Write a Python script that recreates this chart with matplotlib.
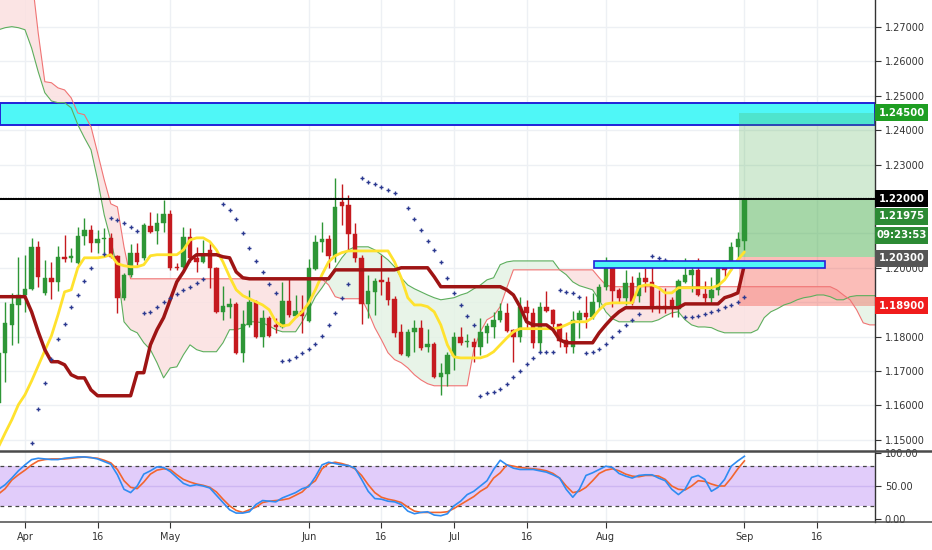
import numpy as np
import pandas as pd
import matplotlib
matplotlib.use('Agg')
import matplotlib.pyplot as plt
from matplotlib.patches import Rectangle
from matplotlib.lines import Line2D
import matplotlib.transforms as mtransforms

plt.rcParams['font.family'] = ['DejaVu Sans']

# ---------------- data ----------------
dates = pd.bdate_range('2020-03-26', '2020-10-30')   # trading days, index 4 = Apr 1

opens = [1.1606, 1.1752, 1.1833, 1.1892, 1.1921, 1.1938, 1.2060, 1.1926, 1.1970, 1.1958,
         1.2031, 1.2028, 1.2015, 1.2092, 1.2110, 1.2072, 1.2084, 1.2087, 1.2034, 1.1912,
         1.1979, 1.2043, 1.2028, 1.2121, 1.2107, 1.2130, 1.2156, 1.2002, 1.2002, 1.2089,
         1.2028, 1.2017, 1.2052, 1.1999, 1.1871, 1.1886, 1.1894, 1.1752, 1.1833, 1.1900,
         1.1799, 1.1854, 1.1833, 1.1828, 1.1903, 1.1859, 1.1874, 1.1845, 1.1996, 1.2075,
         1.2084, 1.2034, 1.2191, 1.2183, 1.2098, 1.2028, 1.1894, 1.1929, 1.1964, 1.1958,
         1.1909, 1.1813, 1.1743, 1.1813, 1.1825, 1.1769, 1.1778, 1.1682, 1.1691, 1.1743,
         1.1799, 1.1784, 1.1784, 1.1769, 1.1810, 1.1828, 1.1848, 1.1868, 1.1819, 1.1799,
         1.1886, 1.1868, 1.1781, 1.1886, 1.1877, 1.1836, 1.1790, 1.1769, 1.1848, 1.1868,
         1.1857, 1.1900, 1.1944, 1.1999, 1.1935, 1.1912, 1.1956, 1.1918, 1.1970, 1.1958,
         1.1889, 1.1889, 1.1906, 1.1880, 1.1958, 1.1979, 1.1993, 1.1924, 1.1912, 1.1935,
         1.2002, 1.2002, 1.2060, 1.2078]
highs = [1.1761, 1.1900, 1.1926, 1.2031, 1.2037, 1.2087, 1.2078, 1.2022, 1.2017, 1.2063,
         1.2095, 1.2057, 1.2119, 1.2145, 1.2124, 1.2110, 1.2116, 1.2101, 1.2037, 1.1985,
         1.2069, 1.2072, 1.2130, 1.2162, 1.2159, 1.2197, 1.2168, 1.2014, 1.2119, 1.2116,
         1.2060, 1.2081, 1.2072, 1.2002, 1.1947, 1.1912, 1.1900, 1.1877, 1.1935, 1.1906,
         1.1877, 1.1859, 1.1854, 1.1958, 1.1970, 1.1921, 1.1921, 1.2025, 1.2095, 1.2133,
         1.2095, 1.2261, 1.2244, 1.2212, 1.2130, 1.2037, 1.1979, 1.1970, 1.2037, 1.1973,
         1.1918, 1.1836, 1.1822, 1.1848, 1.1848, 1.1822, 1.1784, 1.1723, 1.1755, 1.1813,
         1.1828, 1.1807, 1.1796, 1.1854, 1.1839, 1.1871, 1.1897, 1.1897, 1.1822, 1.1915,
         1.1906, 1.1883, 1.1900, 1.1932, 1.1880, 1.1839, 1.1813, 1.1874, 1.1877, 1.1918,
         1.1926, 1.1953, 1.2031, 1.2002, 1.1941, 1.1993, 1.1976, 1.1988, 1.1999, 1.2002,
         1.1935, 1.1941, 1.1915, 1.1967, 1.2028, 1.2008, 1.2028, 1.1961, 1.1973, 1.2002,
         1.2017, 1.2075, 1.2104, 1.2200]
lows = [1.1586, 1.1667, 1.1775, 1.1781, 1.1871, 1.1935, 1.1944, 1.1920, 1.1909, 1.1932,
        1.2017, 1.2017, 1.2012, 1.2066, 1.2046, 1.2043, 1.2037, 1.2028, 1.1868, 1.1906,
        1.1973, 1.2008, 1.2022, 1.2101, 1.2069, 1.2104, 1.1993, 1.1993, 1.1999, 1.2017,
        1.1988, 1.2014, 1.1941, 1.1868, 1.1848, 1.1854, 1.1749, 1.1726, 1.1828, 1.1796,
        1.1769, 1.1799, 1.1810, 1.1825, 1.1857, 1.1857, 1.1810, 1.1842, 1.1993, 1.2046,
        1.1999, 1.2017, 1.2124, 1.2052, 1.2017, 1.1836, 1.1854, 1.1862, 1.1921, 1.1892,
        1.1799, 1.1746, 1.1740, 1.1755, 1.1761, 1.1755, 1.1679, 1.1630, 1.1656, 1.1703,
        1.1775, 1.1769, 1.1726, 1.1746, 1.1781, 1.1796, 1.1842, 1.1813, 1.1726, 1.1784,
        1.1825, 1.1766, 1.1755, 1.1871, 1.1825, 1.1769, 1.1752, 1.1752, 1.1796, 1.1825,
        1.1851, 1.1877, 1.1935, 1.1886, 1.1897, 1.1892, 1.1892, 1.1900, 1.1929, 1.1871,
        1.1868, 1.1868, 1.1857, 1.1857, 1.1955, 1.1929, 1.1918, 1.1900, 1.1897, 1.1921,
        1.1973, 1.1993, 1.2028, 1.2052]
closes = [1.1752, 1.1839, 1.1894, 1.1921, 1.1938, 1.2060, 1.1973, 1.1970, 1.1958, 1.2031,
          1.2025, 1.2034, 1.2092, 1.2110, 1.2072, 1.2084, 1.2087, 1.2031, 1.1912, 1.1979,
          1.2043, 1.2017, 1.2124, 1.2104, 1.2130, 1.2156, 1.1999, 1.1999, 1.2089, 1.2028,
          1.2017, 1.2034, 1.1999, 1.1871, 1.1889, 1.1894, 1.1752, 1.1836, 1.1900, 1.1799,
          1.1854, 1.1802, 1.1828, 1.1903, 1.1862, 1.1874, 1.1859, 1.1999, 1.2075, 1.2084,
          1.2034, 1.2177, 1.2180, 1.2098, 1.2028, 1.1894, 1.1932, 1.1961, 1.1958, 1.1906,
          1.1810, 1.1749, 1.1813, 1.1825, 1.1766, 1.1778, 1.1682, 1.1694, 1.1746, 1.1799,
          1.1781, 1.1787, 1.1769, 1.1813, 1.1830, 1.1848, 1.1874, 1.1816, 1.1799, 1.1886,
          1.1868, 1.1781, 1.1886, 1.1874, 1.1836, 1.1787, 1.1769, 1.1848, 1.1868, 1.1857,
          1.1900, 1.1944, 1.1999, 1.1932, 1.1912, 1.1956, 1.1897, 1.1970, 1.1958, 1.1886,
          1.1883, 1.1883, 1.1883, 1.1961, 1.1979, 1.1993, 1.1921, 1.1912, 1.1935, 1.1999,
          1.1993, 1.2060, 1.2084, 1.21975]

tenkan = ([1.1480, 1.1520, 1.1558, 1.1602, 1.1631, 1.1671, 1.1715, 1.1759, 1.1802, 1.1863,
           1.1930, 1.1936, 1.2000, 1.2029, 1.2029, 1.2029, 1.2032, 1.2038, 1.2012, 1.2006,
           1.2003, 1.2003, 1.2009, 1.2035, 1.2038, 1.2038, 1.2038, 1.2038, 1.2052, 1.2081,
           1.2087, 1.2087, 1.2076, 1.2052, 1.2017, 1.1974, 1.1936, 1.1919, 1.1910, 1.1901,
           1.1892, 1.1878, 1.1843, 1.1831, 1.1834, 1.1855, 1.1872, 1.1898, 1.1936, 1.1980,
           1.2017, 1.2035, 1.2044]
          + [1.2049] * 7
          + [1.2017, 1.1971, 1.1913, 1.1892, 1.1892, 1.1887, 1.1872, 1.1834, 1.1776, 1.1741]
          + [1.1738] * 4
          + [1.1744, 1.1756, 1.1776, 1.1796, 1.1814]
          + [1.1823] * 6
          + [1.1826, 1.1834, 1.1843, 1.1843, 1.1843, 1.1855, 1.1878, 1.1895]
          + [1.1898] * 4
          + [1.1945, 1.1950, 1.1950, 1.1942, 1.1927, 1.1927]
          + [1.1942] * 6
          + [1.1948, 1.1965, 1.1994, 1.2023, 1.2046])

kijun = ([1.1916] * 5
         + [1.1872, 1.1814, 1.1762, 1.1727, 1.1727, 1.1718, 1.1689, 1.1680, 1.1680, 1.1645]
         + [1.1628] * 6
         + [1.1695, 1.1695, 1.1776, 1.1820, 1.1855, 1.1907, 1.1959, 1.1988, 1.2023]
         + [1.2038] * 4
         + [1.2032, 1.2029, 1.1988, 1.1971]
         + [1.1968] * 13
         + [1.1994] * 10
         + [1.2000] * 5
         + [1.1974]
         + [1.1945] * 10
         + [1.1936, 1.1921, 1.1887, 1.1843, 1.1834, 1.1834, 1.1834, 1.1820, 1.1791]
         + [1.1782] * 5
         + [1.1811, 1.1834, 1.1855, 1.1872]
         + [1.1884] * 9
         + [1.1895] * 6
         + [1.1913, 1.1919, 1.1927, 1.2009])

senkou_a = ([1.2692, 1.2698, 1.2701, 1.2698, 1.2692, 1.2639, 1.2570, 1.2509, 1.2485, 1.2480,
             1.2480, 1.2465, 1.2416, 1.2378, 1.2343, 1.2256, 1.2154, 1.2081, 1.1994, 1.1843,
             1.1820, 1.1811, 1.1782, 1.1762, 1.1724, 1.1680, 1.1709, 1.1712, 1.1747, 1.1776,
             1.1762, 1.1756, 1.1756, 1.1756, 1.1782, 1.1820, 1.1820, 1.1826, 1.1843, 1.1843,
             1.1840, 1.1831, 1.1820, 1.1814, 1.1814, 1.1814, 1.1843, 1.1878, 1.1916, 1.1942,
             1.1971, 1.2000, 1.2029, 1.2052, 1.2061, 1.2061, 1.2061, 1.2052, 1.2038, 1.2023,
             1.2003, 1.1971, 1.1950, 1.1939, 1.1930, 1.1921, 1.1913, 1.1907, 1.1910, 1.1913,
             1.1921, 1.1927, 1.1939, 1.1950, 1.1965, 1.1971, 1.2009, 1.2017]
            + [1.2020] * 7
            + [1.1994, 1.1980, 1.1959, 1.1948, 1.1942, 1.1936, 1.1907, 1.1872, 1.1852]
            + [1.1843] * 6
            + [1.1849, 1.1860, 1.1869, 1.1872, 1.1849, 1.1834, 1.1828, 1.1828, 1.1826, 1.1817]
            + [1.1811] * 5
            + [1.1820, 1.1855, 1.1872, 1.1881, 1.1892, 1.1898, 1.1907, 1.1913, 1.1916, 1.1921,
               1.1921, 1.1916, 1.1907, 1.1907, 1.1916]
            + [1.1919] * 4)

senkou_b = ([1.2900] * 5
            + [1.2850, 1.2683, 1.2541, 1.2538, 1.2523, 1.2517, 1.2494, 1.2450, 1.2445, 1.2410,
               1.2334, 1.2256, 1.2186, 1.2177, 1.2061]
            + [1.1968] * 30
            + [1.1950, 1.1916]
            + [1.1910] * 4
            + [1.1872, 1.1826, 1.1791, 1.1753, 1.1733, 1.1724, 1.1709, 1.1689, 1.1674, 1.1663]
            + [1.1657] * 6
            + [1.1762, 1.1814, 1.1849, 1.1860, 1.1887, 1.1942]
            + [1.1994] * 13
            + [1.1971, 1.1950]
            + [1.1945] * 34
            + [1.1936, 1.1921, 1.1907, 1.1878, 1.1840, 1.1834, 1.1834])

nan = np.nan
psar = [nan, nan, nan, nan, nan, 1.1491, 1.1590, 1.1666, 1.1735, 1.1794,
        1.1837, 1.1887, 1.1921, 1.1962, 1.2000, nan, 1.2041, 1.2145, 1.2140, 1.2131,
        1.2119, 1.2108, 1.1869, 1.1872, 1.1887, 1.1901, 1.1913, 1.1924, 1.1936, 1.1945,
        1.1956, 1.1968, nan, nan, 1.2186, 1.2169, 1.2142, 1.2102, 1.2058, 1.2020,
        1.1988, 1.1953, 1.1927, 1.1730, 1.1733, 1.1741, 1.1753, 1.1765, 1.1779, 1.1802,
        1.1834, 1.1869, 1.1913, 1.1953, nan, 1.2262, 1.2250, 1.2244, 1.2235, 1.2227,
        1.2218, nan, 1.2174, 1.2142, 1.2110, 1.2078, 1.2052, 1.2017, 1.1971, 1.1927,
        1.1892, 1.1860, 1.1834, 1.1628, 1.1637, 1.1640, 1.1648, 1.1663, 1.1683, 1.1701,
        1.1721, 1.1738, 1.1756, 1.1756, 1.1756, 1.1936, 1.1930, 1.1927, 1.1916, 1.1753,
        1.1756, 1.1765, 1.1779, 1.1799, 1.1817, 1.1834, 1.1849, 1.1866, nan, 1.2035,
        1.2029, 1.2023, 1.2017, nan, 1.1858, 1.1858, 1.1860, 1.1866, 1.1872, 1.1878,
        1.1887, 1.1892, 1.1901, 1.1916]

stoch_k = [45, 52, 62, 73, 82,
           90, 92, 91, 90, 90, 92, 93, 94, 94, 93,
           91, 87, 83, 67, 45, 40, 50, 68, 73, 79,
           78, 72, 63, 54, 50, 52, 50, 47, 36, 25,
           14, 9, 9, 11, 22, 28, 27, 26, 32, 36,
           40, 46, 49, 64, 82, 86, 84, 82, 81, 77,
           60, 42, 31, 30, 27, 26, 22, 12, 8, 10,
           11, 6, 5, 8, 20, 27, 37, 42, 50, 58,
           75, 89, 82, 77, 75, 75, 75, 73, 71, 67,
           62, 45, 33, 45, 66, 70, 75, 80, 78, 69,
           65, 62, 66, 67, 67, 62, 58, 45, 37, 45,
           63, 66, 60, 42, 48, 60, 80, 88, 95]
stoch_d = [38, 46, 59, 67, 74,
           82, 88, 90, 91, 91, 91, 92, 93, 94, 93,
           92, 89, 85, 75, 58, 48, 46, 56, 68, 74,
           76, 75, 67, 60, 56, 53, 51, 48, 41, 30,
           20, 13, 10, 14, 18, 25, 27, 28, 29, 31,
           36, 41, 51, 58, 76, 84, 86, 84, 81, 76,
           66, 52, 40, 33, 30, 28, 25, 18, 12, 10,
           10, 10, 10, 11, 16, 22, 28, 34, 42, 48,
           62, 70, 82, 80, 78, 77, 76, 75, 73, 69,
           62, 50, 40, 42, 48, 58, 69, 74, 76, 73,
           68, 65, 64, 66, 66, 65, 60, 50, 45, 44,
           50, 58, 57, 53, 50, 50, 62, 76, 88]

tick_dates = ['2020-04-01', '2020-04-16', '2020-05-01', '2020-06-01', '2020-06-16',
              '2020-07-01', '2020-07-16', '2020-08-03', '2020-09-01', '2020-09-16']
tick_labels = ['Apr', '16', 'May', 'Jun', '16', 'Jul', '16', 'Aug', 'Sep', '16']

price_ticks = [1.15, 1.16, 1.17, 1.18, 1.19, 1.20, 1.21, 1.22, 1.23, 1.24, 1.25, 1.26, 1.27]
hidden_ticks = [1.19, 1.21, 1.22]          # covered by the price boxes in the reference

resistance_zone = (1.2415, 1.2479)
breakout_zone = (1.2000, 1.2020)
key_level = 1.2200
entry, target, stop, last_price = 1.2030, 1.2450, 1.1890, 1.21975

# ---------------- positions ----------------
opens, highs, lows, closes = map(np.array, (opens, highs, lows, closes))
n = len(opens)
x = np.arange(n) - 4                     # Apr 1 -> 0
xc = np.arange(len(senkou_a)) - 4
ticks_x = [dates.get_loc(pd.Timestamp(d)) - 4 for d in tick_dates]

X0, X1 = -25 / 6.6, 850 / 6.6
Y0, Y1 = 1.14703, 1.27785

W, H = 932, 550
fig = plt.figure(figsize=(W / 100, H / 100), dpi=100)
ax = fig.add_axes([0, 1 - 450 / H, 875 / W, 450 / H])
ax2 = fig.add_axes([0, 1 - 522 / H, 875 / W, 71 / H])

grid_c = '#EDF0F4'
for a in (ax, ax2):
    a.set_xlim(X0, X1)
    for s in ('top', 'left', 'bottom'):
        a.spines[s].set_visible(False)
    a.spines['right'].set_color('#333333')
    a.spines['right'].set_linewidth(1.0)
    a.set_xticks(ticks_x)
    for t in ticks_x:
        a.axvline(t, color=grid_c, lw=1, zorder=0)

ax.set_ylim(Y0, Y1)
for v in price_ticks:
    ax.axhline(v, color=grid_c, lw=1, zorder=0)
ax.yaxis.tick_right()
ax.set_yticks(price_ticks)
ax.set_yticklabels(['' if v in hidden_ticks else '%.5f' % v for v in price_ticks])
ax.tick_params(axis='y', length=4, width=0.8, colors='#333333', labelsize=7, pad=3, direction='out')
ax.tick_params(axis='x', length=0, labelbottom=False)

# cloud
sa, sb = np.array(senkou_a), np.array(senkou_b)
ax.fill_between(xc, sa, sb, where=sa >= sb, interpolate=True, color='#E3F2E3', alpha=0.8, lw=0, zorder=1)
ax.fill_between(xc, sa, sb, where=sa < sb, interpolate=True, color='#FBE0E0', alpha=0.85, lw=0, zorder=1)
ax.plot(xc, sa, color='#5DAE5D', lw=0.8, zorder=2)
ax.plot(xc, sb, color='#F07474', lw=0.8, zorder=2)

# position tool zones
pstart = 108.2
ax.add_patch(Rectangle((pstart, entry), X1 - pstart, target - entry, facecolor='#4CAF50', alpha=0.25, lw=0, zorder=1.5))
ax.add_patch(Rectangle((pstart, entry), X1 - pstart, last_price - entry, facecolor='#4CAF50', alpha=0.32, lw=0, zorder=1.6))
ax.add_patch(Rectangle((pstart, stop), X1 - pstart, entry - stop, facecolor='#F44336', alpha=0.35, lw=0, zorder=1.5))

# cyan zones
ax.add_patch(Rectangle((X0, resistance_zone[0]), X1 - X0, resistance_zone[1] - resistance_zone[0],
                       facecolor='#4FF7F7', edgecolor='#2323D8', lw=1.4, zorder=1.4))
ax.add_patch(Rectangle((86.2, breakout_zone[0]), 35.0, breakout_zone[1] - breakout_zone[0],
                       facecolor='#4FF7F7', edgecolor='#2323D8', lw=1.2, zorder=5))

# key level
ax.axhline(key_level, color='black', lw=1.4, zorder=6)
ax.axhline(key_level + 0.0003, color='black', lw=0.9, ls=(0, (1, 1)), zorder=6)

# candles
up = closes >= opens
col = np.where(up, '#2E9636', '#C51A1F')
ax.vlines(x, lows, highs, colors=col, lw=1.0, zorder=3)
body_lo = np.minimum(opens, closes)
body_h = np.maximum(np.abs(closes - opens), 0.00025)
ax.bar(x, body_h, bottom=body_lo, width=0.66, color=col, edgecolor=col, lw=0.3, zorder=3.1)

# ichimoku lines
ax.plot(x, tenkan, color='#FFE22E', lw=2.0, zorder=4, solid_capstyle='round')
ax.plot(x, kijun, color='#9E1414', lw=2.5, zorder=4.1, solid_capstyle='round')

# parabolic SAR
ax.plot(x, psar, ls='none', marker='+', ms=3.2, mew=1.0, color='#2B3990', zorder=4.5)

# price label boxes
trans = mtransforms.blended_transform_factory(ax.transAxes, ax.transData)
bh = 17 / 3440
boxes = [(1.2450, '1.24500', '#1E9E22'),
         (1.2200, '1.22000', '#000000'),
         (1.2150, '1.21975', '#2C8A34'),
         (1.2095, '09:23:53', '#2C8A34'),
         (1.2028, '1.20300', '#555555'),
         (1.1889, '1.18900', '#F01C1C')]
for yv, txt, c in boxes:
    ax.add_patch(Rectangle((1.0, yv - bh / 2), 53 / 875, bh, transform=trans, facecolor=c,
                           edgecolor='none', clip_on=False, zorder=10))
    ax.text(1.0 + 27 / 875, yv, txt, transform=trans, ha='center', va='center', color='white',
            fontsize=7.3, fontweight='bold', clip_on=False, zorder=11)

# ---------------- stochastic ----------------
ax2.set_ylim(-4.5, 103)
ax2.axhspan(20, 80, color='#E1CCFA', lw=0, zorder=0.5)
ax2.axhline(50, color='#CDB6F2', lw=1, zorder=0.6)
ax2.axhline(80, color='#444444', lw=0.9, ls=(0, (3, 3)), zorder=1)
ax2.axhline(20, color='#444444', lw=0.9, ls=(0, (3, 3)), zorder=1)
ax2.plot(x, stoch_d, color='#F2652E', lw=1.2, zorder=2)
ax2.plot(x, stoch_k, color='#2F8CF2', lw=1.2, zorder=3)
ax2.yaxis.tick_right()
ax2.set_yticks([0, 50, 100])
ax2.set_yticklabels(['0.00', '50.00', '100.00'])
ax2.tick_params(axis='y', length=4, width=0.8, colors='#333333', labelsize=7, pad=3)
ax2.set_xticklabels(tick_labels)
ax2.tick_params(axis='x', length=4, width=0.8, colors='#333333', labelsize=7, pad=3)

# separators
fig.add_artist(Line2D([0, 1], [1 - 450.5 / H, 1 - 450.5 / H], color='#4A4A4A', lw=1.8, transform=fig.transFigure))
fig.add_artist(Line2D([0, 1], [1 - 522 / H, 1 - 522 / H], color='#4A4A4A', lw=1.1, transform=fig.transFigure))

fig.savefig('out.png', dpi=100)
